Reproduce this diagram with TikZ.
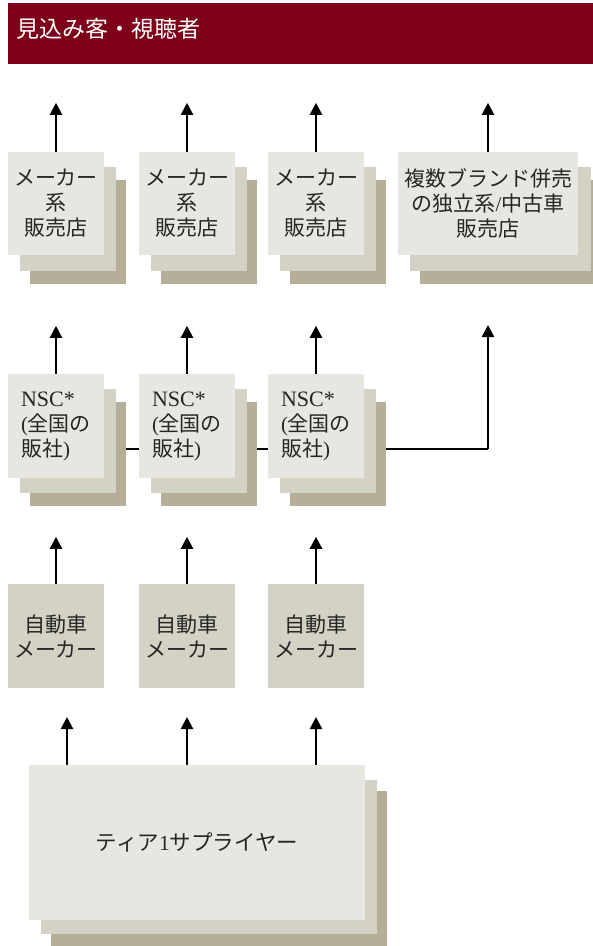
\documentclass[tikz,border=0pt]{standalone}
\usepackage{fontspec}
\setmainfont{Noto Sans CJK JP}
\newfontfamily\latfont{Liberation Serif}
\usetikzlibrary{arrows.meta}
\definecolor{hdr}{HTML}{7F0019}
\definecolor{boxA}{HTML}{E7E6E1}
\definecolor{boxB}{HTML}{D4D1C5}
\definecolor{boxC}{HTML}{B5AF99}
\begin{document}
\begin{tikzpicture}[x=1pt,y=-1pt,
  arr/.style={line width=2.2pt,-{Triangle[width=12pt,length=12pt]}},
  conn/.style={line width=2.2pt},
  front/.style={fill=boxA, inner sep=0pt, text=black!85, align=center,
    font=\fontsize{21}{25}\selectfont},
  maker/.style={fill=boxB, inner sep=0pt, text=black!85, align=center,
    font=\fontsize{21}{25}\selectfont, minimum width=96pt, minimum height=104pt}]
\useasboundingbox (0,0) rectangle (593,946);
\fill[white] (0,0) rectangle (593,946);

% header
\fill[hdr] (8,3) rectangle (593,64);
\node[anchor=west, text=white, inner sep=0pt, font=\fontsize{23}{26}\selectfont] (head) at (16,29) {見込み客・視聴者};

% connector between NSCs and to independent dealers (behind boxes)
\coordinate (j) at (488,449);
\coordinate (d4in) at (488,325);

% ---------- dealers row ----------
\foreach \x in {8,139,268}{
  \fill[boxC] (\x+22,180) rectangle (\x+118,284);
  \fill[boxB] (\x+12,167) rectangle (\x+108,271);
}
\node[front, minimum width=96pt, minimum height=103pt] (d1) at (56,203.5) {メーカー\\系\\販売店};
\node[front, minimum width=96pt, minimum height=103pt] (d2) at (187,203.5) {メーカー\\系\\販売店};
\node[front, minimum width=96pt, minimum height=103pt] (d3) at (316,203.5) {メーカー\\系\\販売店};
\fill[boxC] (420,180) rectangle (593,284);
\fill[boxB] (410,167) rectangle (591,271);
\node[front, minimum width=180pt, minimum height=103pt] (d4) at (488,203.5) {複数ブランド併売\\の独立系{\latfont/}中古車\\販売店};

% ---------- NSC row ----------
\node[inner sep=0pt] (n0) at (56,425) {};
\draw[conn] (n0.center |- j) -- (j);
\draw[arr] (j) -- (d4in);
\foreach \x in {8,139,268}{
  \fill[boxC] (\x+22,402) rectangle (\x+118,506);
  \fill[boxB] (\x+12,389) rectangle (\x+108,493);
}
\node[front, align=left, minimum width=96pt, minimum height=104pt] (n1) at (56,426) {{\latfont\fontsize{22}{25}\selectfont NSC*}\\{\latfont(}全国の\\販社{\latfont)}};
\node[front, align=left, minimum width=96pt, minimum height=104pt] (n2) at (187,426) {{\latfont\fontsize{22}{25}\selectfont NSC*}\\{\latfont(}全国の\\販社{\latfont)}};
\node[front, align=left, minimum width=96pt, minimum height=104pt] (n3) at (316,426) {{\latfont\fontsize{22}{25}\selectfont NSC*}\\{\latfont(}全国の\\販社{\latfont)}};

% ---------- makers row ----------
\node[maker] (m1) at (56,636) {自動車\\メーカー};
\node[maker] (m2) at (187,636) {自動車\\メーカー};
\node[maker] (m3) at (316,636) {自動車\\メーカー};

% ---------- tier 1 ----------
\fill[boxC] (51,791) rectangle (387,946);
\fill[boxB] (41,780) rectangle (377,934);
\node[front, font=\fontsize{21.5}{25}\selectfont, minimum width=336pt, minimum height=155pt] (t) at (197,842.5) {ティア{\latfont 1}サプライヤー};

% ---------- arrows ----------
\foreach \n in {d1,d2,d3,d4}{ \draw[arr] (\n.north) -- ++(0,-49); }
\foreach \n in {n1,n2,n3}{ \draw[arr] (\n.north) -- ++(0,-48); }
\foreach \n in {m1,m2,m3}{ \draw[arr] (\n.north) -- ++(0,-47); }
\coordinate (t1) at (67,765);
\coordinate (t2) at (187,765);
\coordinate (t3) at (316,765);
\foreach \c in {t1,t2,t3}{ \draw[arr] (\c) -- ++(0,-48); }
\end{tikzpicture}
\end{document}
